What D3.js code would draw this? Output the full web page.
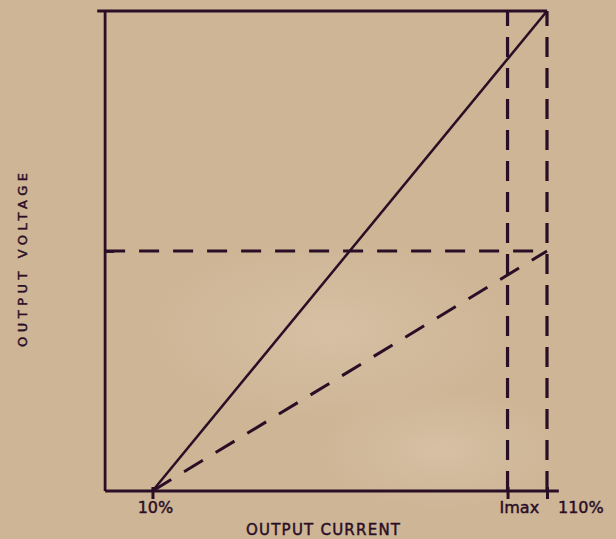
<!DOCTYPE html>
<html lang="en">
<head>
<meta charset="UTF-8">
<title>Output voltage vs output current</title>
<script src="https://cdnjs.cloudflare.com/ajax/libs/d3/7.8.5/d3.min.js"></script>
<style>
  * { margin: 0; padding: 0; }
  body { background: #ceb596; width: 616px; height: 539px; overflow: hidden; }
  svg { display: block; }
  text { font-family: "DejaVu Sans", sans-serif; fill: #2a0e26; stroke: #2a0e26; stroke-width: 0.45; }
</style>
</head>
<body>
<svg id="chart" width="616" height="539"></svg>
<script>
// current in % of rating, voltage in % of full output
const tickValues = [10, 100, 110];
const tickLabels = ["10%", "Imax", "110%"];
const solidLine = [[10, 0], [110, 100]];       // full load line
const dashedSlope = [[10, 0], [110, 50]];      // foldback line
const halfLevel = [[-2, 50], [110, 50]];       // horizontal dashed
const topLine = [[-4, 100], [110, 100]];       // top border
const verticalDashes = [100, 110];             // Imax and 110%

const ink = "#2a0e26";
const svg = d3.select("#chart");

const x = d3.scaleLinear().domain([0, 110]).range([113, 547]);
const y = d3.scaleLinear().domain([0, 100]).range([491, 11]);
const xStart = -2, xEnd = 113;

const line = d3.line().x(d => x(d[0])).y(d => y(d[1]));

// soft paper blotches
const defs = svg.append("defs");
const g1 = defs.append("radialGradient").attr("id", "blot");
g1.append("stop").attr("offset", "0%").attr("stop-color", "#d8c2a6").attr("stop-opacity", 0.8);
g1.append("stop").attr("offset", "100%").attr("stop-color", "#d8c2a6").attr("stop-opacity", 0);
svg.append("ellipse").attr("cx", 330).attr("cy", 330).attr("rx", 180).attr("ry", 90).attr("fill", "url(#blot)");
svg.append("ellipse").attr("cx", 440).attr("cy", 450).attr("rx", 120).attr("ry", 60).attr("fill", "url(#blot)");

// axes
svg.append("line")
  .attr("x1", x(xStart)).attr("x2", x(xEnd))
  .attr("y1", y(0)).attr("y2", y(0))
  .attr("stroke", ink).attr("stroke-width", 2.8);
svg.append("line")
  .attr("x1", x(xStart)).attr("x2", x(xStart))
  .attr("y1", y(0)).attr("y2", y(100))
  .attr("stroke", ink).attr("stroke-width", 2.8);

const xAxis = svg.append("g")
  .attr("transform", `translate(0,${y(0)})`)
  .call(d3.axisBottom(x).tickValues(tickValues).tickSize(8).tickFormat(""));
xAxis.select(".domain").remove();
xAxis.selectAll(".tick line").attr("stroke", ink).attr("stroke-width", 3).attr("y1", -4);

const yAxis = svg.append("g")
  .attr("transform", `translate(${x(xStart)},0)`)
  .call(d3.axisRight(y).tickValues([50]).tickSize(9).tickFormat(""));
yAxis.select(".domain").remove();
yAxis.selectAll(".tick line").attr("stroke", ink).attr("stroke-width", 2.8);

// top border
svg.append("path").datum(topLine).attr("d", line)
  .attr("fill", "none").attr("stroke", ink).attr("stroke-width", 2.8);

// vertical dashed lines
svg.selectAll(".vdash").data(verticalDashes).join("line")
  .attr("class", "vdash")
  .attr("x1", d => x(d)).attr("x2", d => x(d))
  .attr("y1", y(0)).attr("y2", y(100))
  .attr("stroke", ink).attr("stroke-width", 3.2)
  .attr("stroke-dasharray", "20,11");

// horizontal dashed line
svg.append("path").datum(halfLevel).attr("d", line)
  .attr("fill", "none").attr("stroke", ink).attr("stroke-width", 3)
  .attr("stroke-dasharray", "20,14");

// sloped dashed line
svg.append("path").datum(dashedSlope).attr("d", line)
  .attr("fill", "none").attr("stroke", ink).attr("stroke-width", 3)
  .attr("stroke-dasharray", "22,15");

// solid load line
svg.append("path").datum(solidLine).attr("d", line)
  .attr("fill", "none").attr("stroke", ink).attr("stroke-width", 2.5);

// tick labels
const labelShift = [3, -8, 11];
const labelAnchor = ["middle", "start", "start"];
svg.selectAll(".tlab").data(tickValues).join("text")
  .attr("class", "tlab")
  .attr("x", (d, i) => x(d) + labelShift[i])
  .attr("y", 513)
  .attr("text-anchor", (d, i) => labelAnchor[i])
  .attr("font-size", 16)
  .text((d, i) => tickLabels[i]);

// axis titles
svg.append("text")
  .attr("x", 246).attr("y", 535)
  .attr("font-size", 15)
  .attr("textLength", 154)
  .text("OUTPUT CURRENT");

svg.append("text")
  .attr("transform", "translate(27,260) rotate(-90)")
  .attr("text-anchor", "middle")
  .attr("font-size", 13)
  .attr("textLength", 174)
  .text("OUTPUT VOLTAGE");
</script>
</body>
</html>
